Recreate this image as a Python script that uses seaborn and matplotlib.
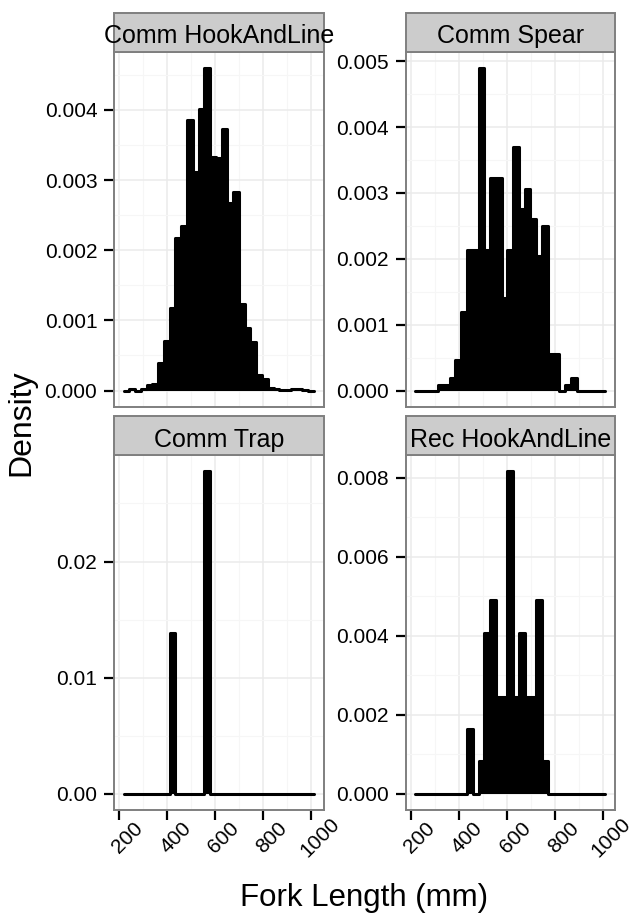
import numpy as np
import pandas as pd
import matplotlib
matplotlib.use("Agg")
import matplotlib.pyplot as plt
import matplotlib.transforms as mtransforms
from matplotlib.patches import Rectangle
from matplotlib.ticker import MultipleLocator, FormatStrFormatter
import seaborn as sns

# ---------------- data ----------------
BIN_START = 218.5      # mm, left edge of first histogram bin
BIN_WIDTH = 24.0       # mm
N_BINS = 33

panels = ["Comm HookAndLine", "Comm Spear", "Comm Trap", "Rec HookAndLine"]

comm_hook = [0, 0.00002, 0, 0.00002, 0.00008, 0.00009, 0.00040, 0.00071, 0.00118,
             0.00218, 0.00234, 0.00386, 0.00311, 0.00401, 0.00460, 0.00333, 0.00332,
             0.00373, 0.00267, 0.00283, 0.00123, 0.00089, 0.00069, 0.00022, 0.00016,
             0.00004, 0.00002, 0.00001, 0.00001, 0.00002, 0.00002, 0.00001, 0]
comm_spear = [0, 0, 0, 0, 0.00009, 0.00009, 0.00019, 0.00046, 0.00120, 0.00213,
              0.00213, 0.00490, 0.00213, 0.00322, 0.00322, 0.00140, 0.00213, 0.00370,
              0.00276, 0.00306, 0.00260, 0.00204, 0.00250, 0.00056, 0.00056, 0,
              0.00009, 0.00019, 0, 0, 0, 0, 0]
comm_trap = [0, 0, 0, 0, 0, 0, 0, 0, 0.01389, 0, 0, 0, 0, 0, 0.02778, 0, 0,
             0, 0, 0, 0, 0, 0, 0, 0, 0, 0, 0, 0, 0, 0, 0, 0]
rec_hook = [0, 0, 0, 0, 0, 0, 0, 0, 0, 0.00163, 0, 0.00082, 0.00408, 0.00490,
            0.00245, 0.00245, 0.00817, 0.00245, 0.00408, 0.00245, 0.00245, 0.00490,
            0.00082, 0, 0, 0, 0, 0, 0, 0, 0, 0, 0]

series = [comm_hook, comm_spear, comm_trap, rec_hook]
y_steps = [0.001, 0.001, 0.01, 0.002]
y_formats = ["%.3f", "%.3f", "%.2f", "%.3f"]
x_ticks = [200, 400, 600, 800, 1000]

edges = BIN_START + BIN_WIDTH * np.arange(N_BINS + 1)
centers = (edges[:-1] + edges[1:]) / 2

df = pd.concat([pd.DataFrame({"gear": g, "length": centers, "density": vals})
                for g, vals in zip(panels, series)], ignore_index=True)

# ---------------- style ----------------
sns.set_theme(style="ticks")
plt.rcParams['font.family'] = ['Liberation Sans', 'DejaVu Sans']

W, H = 636, 914
fig = plt.figure(figsize=(W / 100, H / 100), dpi=100)

# panel boxes in pixels: (left, top); width/height below
pw, ph = 209.5, 355
boxes = [(114, 51.7), (405.5, 51.7), (114, 455), (405.5, 455)]
strip_h = 39

x_lo = edges[0] - 0.05 * (edges[-1] - edges[0])
x_hi = edges[-1] + 0.05 * (edges[-1] - edges[0])

hist_common = dict(x="length", weights="density", binwidth=BIN_WIDTH,
                   binrange=(edges[0], edges[-1]), stat="count", element="step")

for i, (g, (bx, by)) in enumerate(zip(panels, boxes)):
    ax = fig.add_axes([bx / W, 1 - (by + ph) / H, pw / W, ph / H])
    sub = df[df["gear"] == g]
    # filled body
    sns.histplot(data=sub, fill=True, color="black", alpha=1, linewidth=0,
                 ax=ax, **hist_common)
    # outline (gives the bar edges and the zero baseline)
    sns.histplot(data=sub, fill=False, color="black", linewidth=2.2,
                 solid_joinstyle="round", solid_capstyle="round", ax=ax, **hist_common)
    ymax = sub["density"].max()
    ax.set_xlim(x_lo, x_hi)
    ax.set_ylim(-0.05 * ymax, 1.05 * ymax)
    ax.set_xlabel("")
    ax.set_ylabel("")

    ax.xaxis.set_major_locator(MultipleLocator(200))
    ax.xaxis.set_minor_locator(MultipleLocator(100))
    ax.yaxis.set_major_locator(MultipleLocator(y_steps[i]))
    ax.yaxis.set_minor_locator(MultipleLocator(y_steps[i] / 2))
    ax.yaxis.set_major_formatter(FormatStrFormatter(y_formats[i]))

    ax.set_axisbelow(True)
    ax.grid(which="major", color="#EBEBEB", linewidth=1.1)
    ax.grid(which="minor", color="#F6F6F6", linewidth=0.8)

    for s in ax.spines.values():
        s.set_visible(True)
        s.set_color("#7F7F7F")
        s.set_linewidth(1.4)

    ax.tick_params(axis="y", which="major", direction="out", length=7, width=1.6,
                   color="black", labelsize=15, labelcolor="black", pad=5, left=True)
    ax.tick_params(which="minor", length=0)
    bottom_row = i >= 2
    ax.tick_params(axis="x", which="major", direction="out", length=7, width=1.6,
                   color="black", bottom=bottom_row, labelbottom=False)

    if bottom_row:
        off = mtransforms.ScaledTranslation(8.5 / 100, -28 / 100, fig.dpi_scale_trans)
        trans = mtransforms.blended_transform_factory(ax.transData, ax.transAxes) + off
        for v in x_ticks:
            ax.text(v, 0, str(v), transform=trans, rotation=45, rotation_mode="anchor",
                    ha="center", va="center", fontsize=15, color="black")

    # strip
    ax.add_patch(Rectangle((0, 1), 1, strip_h / ph, transform=ax.transAxes,
                           facecolor="#CCCCCC", edgecolor="#7F7F7F", linewidth=1.4,
                           clip_on=False, zorder=5))
    ax.text(0.5, 1 + 8.5 / ph, g, transform=ax.transAxes, ha="center", va="baseline",
            fontsize=18, color="black", zorder=6, clip_on=False)

fig.text(21 / W, 1 - 423 / H, "Density", rotation=90, ha="center", va="center",
         fontsize=23, color="black")
fig.text(364 / W, 1 - 906 / H, "Fork Length (mm)", ha="center", va="baseline",
         fontsize=22.5, color="black")

fig.savefig("out.png", dpi=100, facecolor="white")
